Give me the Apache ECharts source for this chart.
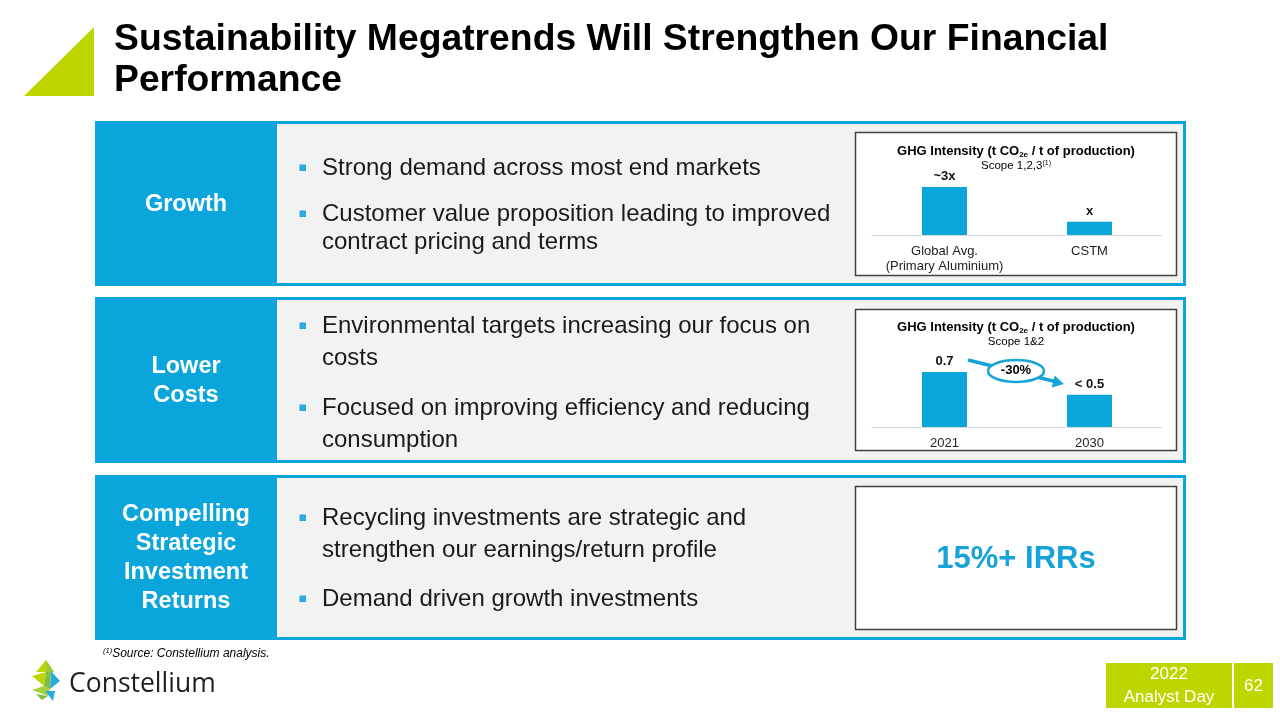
<!DOCTYPE html>
<html><head><meta charset="utf-8">
<script src="https://cdn.jsdelivr.net/npm/echarts@6/dist/echarts.min.js"></script>
<style>html,body{margin:0;padding:0;background:#fff}#c{width:1280px;height:720px}</style>
</head><body><div id="c"></div>
<script>
// ---- data ----
const growthCategories = ['Global Avg.\n(Primary Aluminium)', 'CSTM'];
const growthValues = [3.6, 1.0];
const growthLabels = ['~3x', 'x'];
const costCategories = ['2021', '2030'];
const costValues = [0.7, 0.41];
const costLabels = ['0.7', '< 0.5'];
const changeLabel = '-30%';
const irrText = '15%+ IRRs';
const titleLines = ['Sustainability Megatrends Will Strengthen Our Financial', 'Performance'];
const rowLabels = ['Growth', 'Lower\nCosts', 'Compelling\nStrategic\nInvestment\nReturns'];
const bulletTexts = [
  [['Strong demand across most end markets'], ['Customer value proposition leading to improved', 'contract pricing and terms']],
  [['Environmental targets increasing our focus on', 'costs'], ['Focused on improving efficiency and reducing', 'consumption']],
  [['Recycling investments are strategic and', 'strengthen our earnings/return profile'], ['Demand driven growth investments']]
];

// ---- styles / layout ----
const BLUE = '#0AA5DB';
const LIME = '#BED600';
const FF = '"Liberation Sans", Arial, sans-serif';
const rows = [{y:121,h:165},{y:297,h:166},{y:475,h:165}];
const bulletLineY = [[[168],[214,242]],[[326,358],[408,440]],[[518,550],[599]]];
const innerBoxes = [{y:132,h:143},{y:309,h:141},{y:486,h:143}];

const g = [];
function txt(x, y, text, font, fill, align, extra) {
  return {type:'text', x:x, y:y, z:20, style:Object.assign({text:text, font:font, fill:fill, textAlign:align||'left', textVerticalAlign:'middle'}, extra||{})};
}
// title triangle
g.push({type:'polygon', z:5, shape:{points:[[24,96],[94,27],[94,96]]}, style:{fill:LIME}});
g.push(txt(114, 40, titleLines[0], 'bold 37.3px ' + FF, '#000'));
g.push(txt(114, 81, titleLines[1], 'bold 37.3px ' + FF, '#000'));

rows.forEach((r, i) => {
  g.push({type:'rect', z:1, shape:{x:96.5, y:r.y+1.5, width:1088, height:r.h-3}, style:{fill:'#F2F2F2', stroke:BLUE, lineWidth:3}});
  g.push({type:'rect', z:2, shape:{x:95, y:r.y, width:182, height:r.h}, style:{fill:BLUE}});
  g.push({type:'rect', z:2, shape:{x:277, y:r.y+3, width:1.5, height:r.h-6}, style:{fill:'#FFFFFF'}});
  g.push(txt(186, r.y + r.h/2 + 1, rowLabels[i], 'bold 23.5px ' + FF, '#FFFFFF', 'center', {lineHeight:29}));
  bulletTexts[i].forEach((b, j) => {
    const ys = bulletLineY[i][j];
    g.push({type:'rect', z:3, shape:{x:299.5, y:ys[0]-3.5, width:6.5, height:6.5}, style:{fill:'#29A9DF'}});
    b.forEach((line, k) => g.push(txt(322, ys[k], line, '24px ' + FF, '#1A1A1A')));
  });
  const ib = innerBoxes[i];
  g.push({type:'rect', z:3, shape:{x:855.5, y:ib.y+0.5, width:321, height:ib.h}, style:{fill:'#FFFFFF', stroke:'#404040', lineWidth:1.5}});
});

// chart titles
function chartTitle(y, scopeRich) {
  g.push({type:'text', x:1016, y:y, z:20, style:{
    text:'{b|GHG Intensity (t CO}{s|2e}{b| / t of production)}', textAlign:'center', textVerticalAlign:'middle',
    rich:{b:{font:'bold 13px ' + FF, fill:'#000', lineHeight:16, verticalAlign:'middle'},
          s:{font:'bold 8px ' + FF, fill:'#000', lineHeight:9, verticalAlign:'bottom'}}}});
  g.push({type:'text', x:1016, y:y+15, z:20, style:{
    text:scopeRich, textAlign:'center', textVerticalAlign:'middle',
    rich:{n:{font:'11.5px ' + FF, fill:'#000', lineHeight:13, verticalAlign:'middle'},
          u:{font:'7px ' + FF, fill:'#000', lineHeight:8, verticalAlign:'top'}}}});
}
chartTitle(151, '{n|Scope 1,2,3}{u|(1)}');
chartTitle(327, '{n|Scope 1&2}');

// -30% arrow annotation
g.push({type:'line', z:15, shape:{x1:968, y1:360, x2:1055, y2:381.5}, style:{stroke:'#1AA3D8', lineWidth:3.5}});
g.push({type:'polygon', z:15, shape:{points:[[1064,384],[1051.6,387.6],[1054.6,375.4]]}, style:{fill:'#1AA3D8'}});
g.push({type:'ellipse', z:16, shape:{cx:1016, cy:371, rx:28, ry:11}, style:{fill:'#FFFFFF', stroke:'#1AA3D8', lineWidth:2.5}});
g.push(txt(1016, 370, changeLabel, 'bold 13px ' + FF, '#000', 'center'));

// IRR
g.push(txt(1016, 559, irrText, 'bold 31px ' + FF, '#17A2D8', 'center'));

// footnote
g.push({type:'text', x:103, y:654, z:20, style:{text:'{u|(1)}{n|Source: Constellium analysis.}', textVerticalAlign:'middle',
  rich:{n:{font:'italic 12px ' + FF, fill:'#000', lineHeight:14, verticalAlign:'middle'}, u:{font:'italic 7.5px ' + FF, fill:'#000', lineHeight:8, verticalAlign:'top'}}}});

// logo
const logo = [
  [[46,660],[36,672],[54,672], LIME],
  [[46,660],[54,672],[46,672], '#9BCB3B'],
  [[51,671],[60,681],[50,689], '#29ABE2'],
  [[32,676],[46,672],[44,686], LIME],
  [[44,686],[46,672],[51,671],[50,689], '#7DBE43'],
  [[32,690],[44,686],[50,689],[48,696], '#A8CF38'],
  [[36,694],[48,696],[42,700], '#7DBE43'],
  [[45,691],[55,691],[53,701], '#29ABE2']
];
logo.forEach(p => { const pts = p.slice(0, -1); g.push({type:'polygon', z:5, shape:{points:pts}, style:{fill:p[p.length-1]}}); });
g.push(txt(69, 684, 'Constellium', '500 26.5px "Open Sans", sans-serif', '#231F20'));

// bottom right
g.push({type:'rect', z:5, shape:{x:1106, y:663, width:126, height:45}, style:{fill:LIME}});
g.push({type:'rect', z:5, shape:{x:1234, y:663, width:39, height:45}, style:{fill:LIME}});
g.push(txt(1169, 686, '2022\nAnalyst Day', '17px ' + FF, '#FFFFFF', 'center', {lineHeight:23}));
g.push(txt(1253.5, 686, '62', '17px ' + FF, '#FFFFFF', 'center'));

function barLabel(arr) {
  return {show:true, position:'top', distance:4, formatter:p => arr[p.dataIndex], fontFamily:FF, fontWeight:'bold', fontSize:13, color:'#111'};
}
const axisCommon = {
  type:'category', z:12, axisTick:{show:false}, axisLine:{lineStyle:{color:'#D9D9D9', width:1}},
  axisLabel:{interval:0, hideOverlap:false, fontFamily:FF, fontSize:13, color:'#222', margin:9, lineHeight:15}
};

const chart = echarts.init(document.getElementById('c'), null, {renderer:'canvas'});
chart.setOption({
  animation:false,
  backgroundColor:'#FFFFFF',
  graphic:{elements:g},
  grid:[
    {left:872, width:290, top:175, height:60, z:12},
    {left:872, width:290, top:364, height:63, z:12}
  ],
  xAxis:[
    Object.assign({gridIndex:0, data:growthCategories}, axisCommon),
    Object.assign({gridIndex:1, data:costCategories}, axisCommon)
  ],
  yAxis:[
    {gridIndex:0, type:'value', min:0, max:4.5, show:false},
    {gridIndex:1, type:'value', min:0, max:0.8, show:false}
  ],
  series:[
    {type:'bar', xAxisIndex:0, yAxisIndex:0, data:growthValues, barWidth:45, z:14, itemStyle:{color:BLUE}, label:barLabel(growthLabels)},
    {type:'bar', xAxisIndex:1, yAxisIndex:1, data:costValues, barWidth:45, z:14, itemStyle:{color:BLUE}, label:barLabel(costLabels)}
  ]
});
</script></body></html>
